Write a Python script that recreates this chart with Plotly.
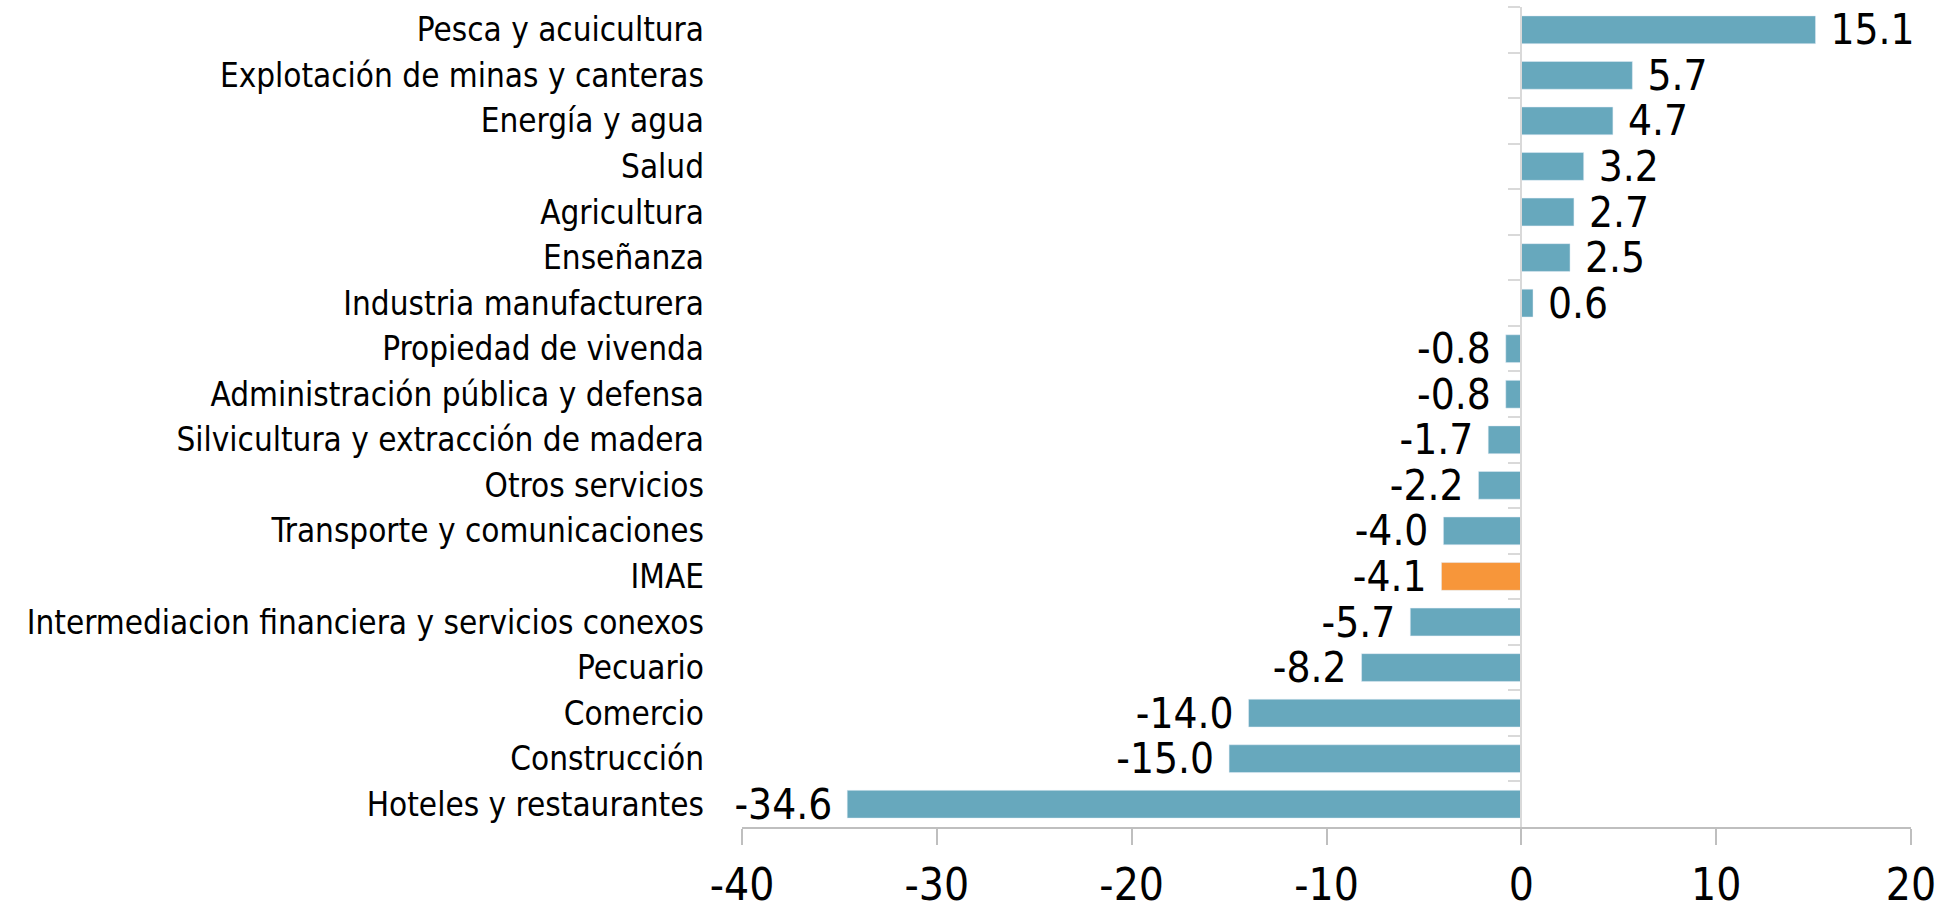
import plotly.graph_objects as go

categories = [
    "Pesca y acuicultura",
    "Explotación de minas y canteras",
    "Energía y agua",
    "Salud",
    "Agricultura",
    "Enseñanza",
    "Industria manufacturera",
    "Propiedad de vivenda",
    "Administración pública y defensa",
    "Silvicultura y extracción de madera",
    "Otros servicios",
    "Transporte y comunicaciones",
    "IMAE",
    "Intermediacion financiera y servicios conexos",
    "Pecuario",
    "Comercio",
    "Construcción",
    "Hoteles y restaurantes",
]
values = [15.1, 5.7, 4.7, 3.2, 2.7, 2.5, 0.6, -0.8, -0.8, -1.7, -2.2, -4.0, -4.1,
          -5.7, -8.2, -14.0, -15.0, -34.6]
highlight = "IMAE"
x_ticks = [-40, -30, -20, -10, 0, 10, 20]
x_tick_labels = ["-40", "-30", "-20", "-10", "0", "10", "20"]

BLUE = "#67A8BD"
ORANGE = "#F7963A"
colors = [ORANGE if c == highlight else BLUE for c in categories]
labels = [("\u00a0" + f"{v:.1f}") if v >= 0 else (f"{v:.1f}" + "\u00a0") for v in values]

NARROW = "DejaVu Sans Condensed, Liberation Sans, sans-serif"

fig = go.Figure()
fig.add_trace(go.Bar(
    x=values, y=categories, orientation="h",
    marker=dict(color=colors, line=dict(width=0)),
    text=labels, textposition="outside", constraintext="none",
    textfont=dict(family=NARROW, size=42, color="#000000"),
    cliponaxis=False, hoverinfo="skip", showlegend=False,
))
# invisible trace carrying the category axis drawn at x = 0
fig.add_trace(go.Bar(
    x=values, y=categories, orientation="h", yaxis="y2",
    marker=dict(color="rgba(0,0,0,0)"), hoverinfo="skip", showlegend=False,
))

n = len(categories)
fig.update_layout(
    width=1949, height=917,
    margin=dict(l=742, r=38, t=7, b=86),
    paper_bgcolor="white", plot_bgcolor="white",
    bargap=0.39, barmode="overlay",
    xaxis=dict(
        range=[-40, 20], tickvals=x_ticks, ticktext=x_tick_labels,
        showgrid=False, zeroline=False,
        showline=True, linecolor="#BFBFBF", linewidth=2,
        ticks="outside", ticklen=16, tickwidth=2, tickcolor="#BFBFBF",
        tickfont=dict(family=NARROW, size=44, color="#000000"),
        ticklabelstandoff=2,
    ),
    yaxis=dict(
        categoryorder="array", categoryarray=categories,
        range=[n - 0.5, -0.5], showgrid=False, zeroline=False,
        showline=False, ticks="",
        tickfont=dict(family=NARROW, size=33, color="#000000"),
        ticklabelstandoff=37,
    ),
    yaxis2=dict(
        overlaying="y", anchor="free", position=2 / 3, side="left",
        categoryorder="array", categoryarray=categories,
        range=[n - 0.5, -0.5], showgrid=False, zeroline=False,
        showline=True, linecolor="#D9D9D9", linewidth=2,
        ticks="outside", tickson="boundaries", ticklen=12, tickwidth=2,
        tickcolor="#D9D9D9", showticklabels=False,
    ),
)

fig.write_html("out.html", config={"displayModeBar": False},
               post_script="document.body.style.margin='0';")
